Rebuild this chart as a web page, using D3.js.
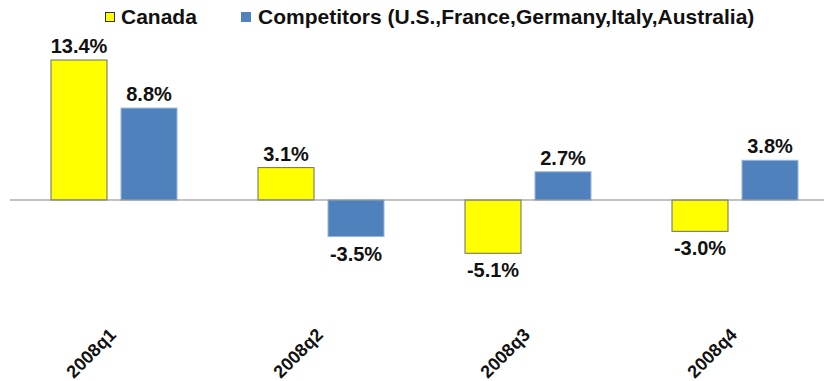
<!DOCTYPE html>
<html>
<head>
<meta charset="utf-8">
<script src="https://cdn.jsdelivr.net/npm/d3@7"></script>
<style>
  html, body { margin: 0; padding: 0; background: #fff; }
  svg { display: block; font-family: "Liberation Sans", Arial, sans-serif; }
</style>
</head>
<body>
<svg id="chart" width="824" height="381"></svg>
<script>
// Quarterly growth, Canada vs. competitors
const quarters = ["2008q1", "2008q2", "2008q3", "2008q4"];
const seriesNames = ["Canada", "Competitors (U.S.,France,Germany,Italy,Australia)"];
const canadaValues = [13.4, 3.1, -5.1, -3.0];
const competitorValues = [8.8, -3.5, 2.7, 3.8];
const seriesColors = ["#FFFF00", "#4F81BD"];
const seriesStrokes = ["#6b6b6b", "#9bb6d8"];

const width = 824, height = 381;
const svg = d3.select("#chart");

// category bands (the last band runs past the right edge)
const x0 = d3.scaleBand().domain(quarters).range([10.5, 838.5]).padding(0);
const x1 = d3.scaleBand().domain(d3.range(seriesNames.length)).range([40.5, 166.5]).paddingInner(0.2).paddingOuter(0);
const y = d3.scaleLinear().domain([0, 13.4]).range([200, 60]);

const rows = quarters.map((q, i) => ({ q, vals: [canadaValues[i], competitorValues[i]] }));

const groups = svg.append("g").selectAll("g").data(rows).join("g")
  .attr("transform", d => `translate(${x0(d.q)},0)`);

groups.selectAll("rect").data(d => d.vals.map((v, s) => ({ v, s }))).join("rect")
  .attr("x", d => x1(d.s))
  .attr("y", d => Math.min(y(d.v), y(0)))
  .attr("width", x1.bandwidth())
  .attr("height", d => Math.abs(y(d.v) - y(0)))
  .attr("fill", d => seriesColors[d.s])
  .attr("stroke", d => seriesStrokes[d.s])
  .attr("stroke-width", 1);

groups.selectAll("text.val").data(d => d.vals.map((v, s) => ({ v, s }))).join("text")
  .attr("class", "val")
  .attr("x", d => x1(d.s) + x1.bandwidth() / 2)
  .attr("y", d => d.v >= 0 ? y(d.v) - 7 : y(d.v) + 24)
  .attr("text-anchor", "middle")
  .attr("font-weight", "bold")
  .attr("font-size", 20)
  .attr("fill", "#111")
  .text(d => d.v.toFixed(1) + "%");

// zero baseline
svg.append("line")
  .attr("x1", 10).attr("x2", width)
  .attr("y1", y(0)).attr("y2", y(0))
  .attr("stroke", "#868686").attr("stroke-width", 1.2);

// category axis labels, rotated
const xAxis = d3.axisBottom(x0).tickSize(0).tickPadding(0);
const axisG = svg.append("g").attr("transform", "translate(0,336)").call(xAxis);
axisG.select(".domain").remove();
axisG.selectAll("text")
  .attr("font-family", "Liberation Sans, Arial, sans-serif")
  .attr("font-size", 18)
  .attr("font-weight", "bold")
  .attr("fill", "#111")
  .attr("text-anchor", "end")
  .attr("dy", 0)
  .attr("y", 0)
  .attr("transform", "translate(3,0) rotate(-45)");

// legend
const legend = svg.append("g");
const legendItems = [{ x: 105, tx: 121 }, { x: 241, tx: 258 }];
seriesNames.forEach((name, i) => {
  legend.append("rect")
    .attr("x", legendItems[i].x + 0.5).attr("y", 12.5)
    .attr("width", 9).attr("height", 9)
    .attr("fill", seriesColors[i])
    .attr("stroke", i === 0 ? "#333" : seriesColors[i]);
  legend.append("text")
    .attr("x", legendItems[i].tx).attr("y", 24)
    .attr("font-size", 21).attr("font-weight", "bold").attr("fill", "#111")
    .text(name);
});
</script>
</body>
</html>
